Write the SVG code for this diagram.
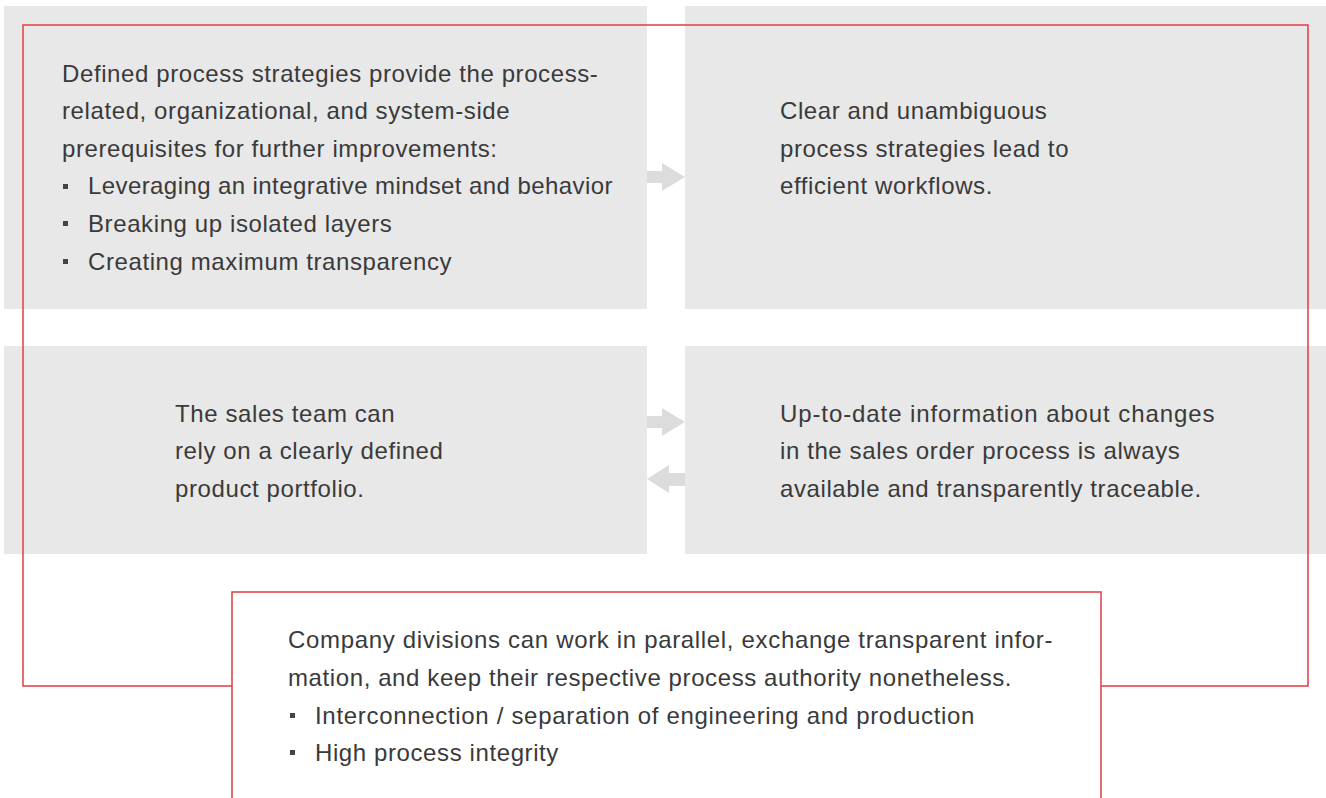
<svg xmlns="http://www.w3.org/2000/svg" width="1326" height="798" viewBox="0 0 1326 798">
<style>
.box{fill:#e8e8e8}
.red{fill:none;stroke:#e63a44;stroke-width:1.5}
.t{font-family:"Liberation Sans",Arial,sans-serif;font-size:24px;letter-spacing:0.6px;fill:#3a3a3a}
.arr{fill:#dcdcdc}
.bul{fill:#444}
</style>
<rect width="1326" height="798" fill="#ffffff"/>
<g id="node-tl">
<rect class="box" x="4" y="6" width="643" height="303"/>
</g>
<g id="node-tr">
<rect class="box" x="685" y="6" width="641" height="303"/>
</g>
<g id="node-bl">
<rect class="box" x="4" y="346" width="643" height="208"/>
</g>
<g id="node-br">
<rect class="box" x="685" y="346" width="641" height="208"/>
</g>
<g id="connectors">
<path class="red" d="M232,686 H23 V25 H1308 V686 H1101"/>
<polygon class="arr" points="647,171 662,171 662,163 685,177 662,191 662,183 647,183"/>
<polygon class="arr" points="647,416 662,416 662,408 685,422 662,436 662,428 647,428"/>
<polygon class="arr" points="685,473 669,473 669,465 647,479 669,493 669,486 685,486"/>
</g>
<g id="node-bottom">
<rect x="232" y="592" width="869" height="220" fill="#ffffff" stroke="#e63a44" stroke-width="1.5"/>
</g>
<g id="text-tl">
<text class="t" x="62" y="82">Defined process strategies provide the process-</text>
<text class="t" x="62" y="119">related, organizational, and system-side</text>
<text class="t" x="62" y="157">prerequisites for further improvements:</text>
<rect class="bul" x="63" y="184" width="5" height="5"/>
<text class="t" x="88" y="194" textLength="525" lengthAdjust="spacing">Leveraging an integrative mindset and behavior</text>
<rect class="bul" x="63" y="221" width="5" height="5"/>
<text class="t" x="88" y="232">Breaking up isolated layers</text>
<rect class="bul" x="63" y="259" width="5" height="5"/>
<text class="t" x="88" y="270">Creating maximum transparency</text>
</g>
<g id="text-tr">
<text class="t" x="780" y="119">Clear and unambiguous</text>
<text class="t" x="780" y="157">process strategies lead to</text>
<text class="t" x="780" y="194">efficient workflows.</text>
</g>
<g id="text-bl">
<text class="t" x="175" y="422">The sales team can</text>
<text class="t" x="175" y="459">rely on a clearly defined</text>
<text class="t" x="175" y="497">product portfolio.</text>
</g>
<g id="text-br">
<text class="t" x="780" y="422" textLength="435" lengthAdjust="spacing">Up-to-date information about changes</text>
<text class="t" x="780" y="459">in the sales order process is always</text>
<text class="t" x="780" y="497">available and transparently traceable.</text>
</g>
<g id="text-bottom">
<text class="t" x="288" y="648" textLength="765" lengthAdjust="spacing">Company divisions can work in parallel, exchange transparent infor-</text>
<text class="t" x="288" y="686">mation, and keep their respective process authority nonetheless.</text>
<rect class="bul" x="290" y="713" width="5" height="5"/>
<text class="t" x="315" y="724" textLength="660" lengthAdjust="spacing">Interconnection / separation of engineering and production</text>
<rect class="bul" x="290" y="750" width="5" height="5"/>
<text class="t" x="315" y="761">High process integrity</text>
</g>
</svg>
